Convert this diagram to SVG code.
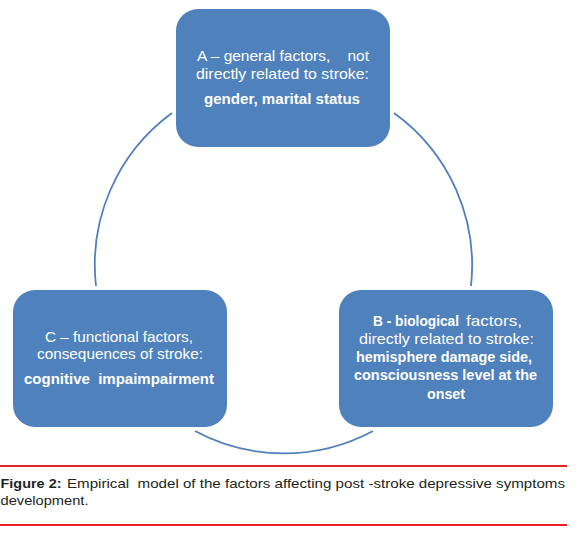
<svg xmlns="http://www.w3.org/2000/svg" width="579" height="533" viewBox="0 0 579 533">
<style>
.box{fill:#4F81BD;}
.conn{fill:none;stroke:#4F81BD;stroke-width:1.8;}
.t{font-family:"Liberation Sans",Arial,sans-serif;font-size:14.5px;fill:#FFFFFF;white-space:pre;}
.b{font-weight:bold;}
.cap{font-family:"Liberation Sans",Arial,sans-serif;font-size:13.5px;fill:#231F20;white-space:pre;}
.rule{stroke:#E8202A;stroke-width:2.2;}
</style>
<rect width="579" height="533" fill="#FFFFFF"/>
<g id="connectors">
<path class="conn" d="M 172 113 A 188 188 0 0 0 96 286"/>
<path class="conn" d="M 394 113 A 188 188 0 0 1 471 286"/>
<path class="conn" d="M 195 431 A 188 188 0 0 0 373 431"/>
</g>
<g id="nodeA">
<rect class="box" x="176" y="9" width="214" height="138" rx="22"/>
<text class="t" x="197" y="61" textLength="172" lengthAdjust="spacingAndGlyphs">A – general factors,    not</text>
<text class="t" x="196" y="78.5" textLength="173" lengthAdjust="spacingAndGlyphs">directly related to stroke:</text>
<text class="t b" x="204" y="104" textLength="156" lengthAdjust="spacingAndGlyphs">gender, marital status</text>
</g>
<g id="nodeC">
<rect class="box" x="13" y="290" width="214" height="137" rx="22"/>
<text class="t" x="45" y="342" textLength="148" lengthAdjust="spacingAndGlyphs">C – functional factors,</text>
<text class="t" x="37" y="359" textLength="166" lengthAdjust="spacingAndGlyphs">consequences of stroke:</text>
<text class="t b" x="24" y="384" textLength="190" lengthAdjust="spacingAndGlyphs">cognitive  impaimpairment</text>
</g>
<g id="nodeB">
<rect class="box" x="339" y="290" width="214" height="137" rx="22"/>
<text class="t b" x="373" y="326" textLength="86" lengthAdjust="spacingAndGlyphs">B - biological</text>
<text class="t" x="466" y="326" textLength="56" lengthAdjust="spacingAndGlyphs">factors,</text>
<text class="t" x="359" y="344" textLength="175" lengthAdjust="spacingAndGlyphs">directly related to stroke:</text>
<text class="t b" x="356" y="362" textLength="176" lengthAdjust="spacingAndGlyphs">hemisphere damage side,</text>
<text class="t b" x="354" y="380" textLength="183" lengthAdjust="spacingAndGlyphs">consciousness level at the</text>
<text class="t b" x="427" y="399" textLength="38" lengthAdjust="spacingAndGlyphs">onset</text>
</g>
<g id="caption">
<line class="rule" x1="0" y1="466" x2="567" y2="466"/>
<line class="rule" x1="0" y1="525" x2="567" y2="525"/>
<text class="cap b" x="0.5" y="487.5" textLength="61" lengthAdjust="spacingAndGlyphs">Figure 2:</text>
<text class="cap" x="67" y="487.5" textLength="498" lengthAdjust="spacingAndGlyphs">Empirical  model of the factors affecting post -stroke depressive symptoms</text>
<text class="cap" x="0.5" y="505" textLength="88" lengthAdjust="spacingAndGlyphs">development.</text>
</g>
</svg>
